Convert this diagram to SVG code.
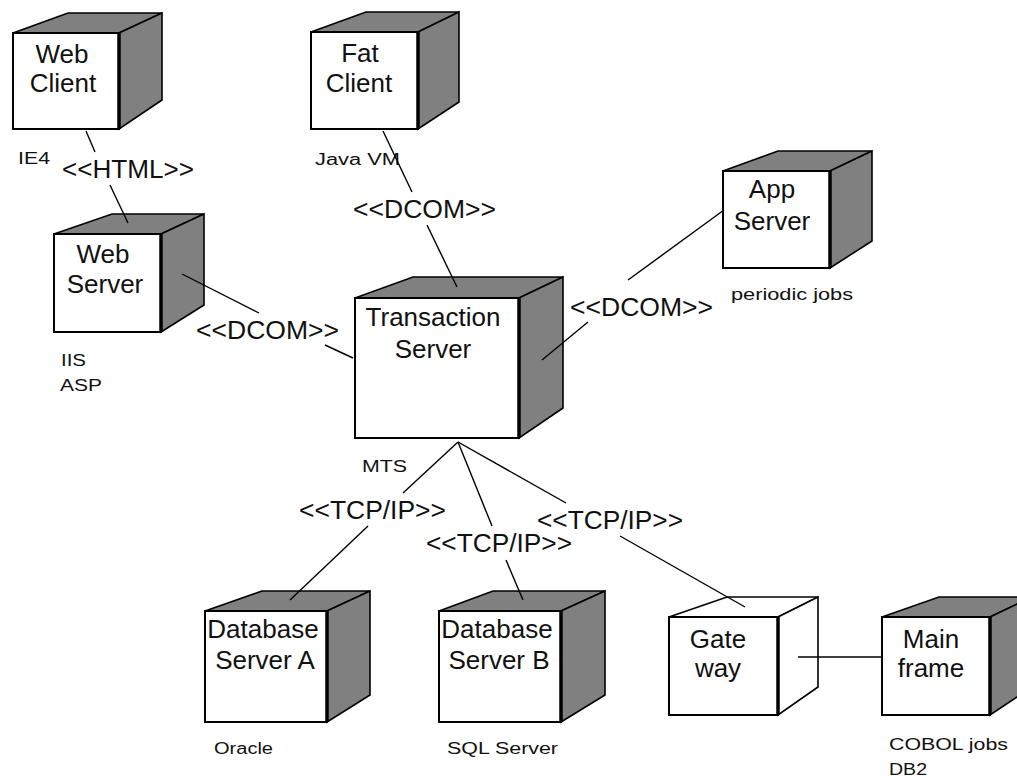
<svg xmlns="http://www.w3.org/2000/svg" width="1017" height="776" viewBox="0 0 1017 776">
  <style>
    .shade { fill: #808080; stroke: #000; stroke-width: 1.6; stroke-linejoin: miter; }
    .blank { fill: #fff; stroke: #000; stroke-width: 1.6; }
    .front { fill: #fff; stroke: #000; stroke-width: 2; }
    .edge { stroke: #000; stroke-width: 3.5; }
    .name { font-family: "Liberation Sans", Arial, sans-serif; font-size: 26px; fill: #111; text-anchor: middle; }
    .note { font-family: "Liberation Sans", Arial, sans-serif; font-size: 16px; fill: #111; }
    .stereo { font-family: "Liberation Sans", Arial, sans-serif; font-size: 25px; fill: #111; }
    .link { stroke: #000; stroke-width: 1.4; fill: none; }
  </style>
  <rect width="1017" height="776" fill="#fff"/>

  <g id="web-client">
    <polygon class="shade" points="13,33 68,13 162,13 119,33"/>
    <polygon class="shade" points="119,33 162,13 162,100 119,129"/>
    <rect class="front" x="13" y="33" width="106" height="96"/>
    <line class="edge" x1="119" y1="33" x2="119" y2="129"/>
    <text class="name" x="62" y="63">Web</text>
    <text class="name" x="63" y="92">Client</text>
    <text class="note" x="18" y="164" textLength="32" lengthAdjust="spacingAndGlyphs">IE4</text>
  </g>

  <g id="fat-client">
    <polygon class="shade" points="311,32 366,12 459,12 418,32"/>
    <polygon class="shade" points="418,32 459,12 459,102 418,129"/>
    <rect class="front" x="311" y="32" width="107" height="97"/>
    <line class="edge" x1="418" y1="32" x2="418" y2="129"/>
    <text class="name" x="360" y="62">Fat</text>
    <text class="name" x="359" y="92">Client</text>
    <text class="note" x="315" y="165" textLength="85" lengthAdjust="spacingAndGlyphs">Java VM</text>
  </g>

  <g id="web-server">
    <polygon class="shade" points="54,234 112,214 204,214 161,234"/>
    <polygon class="shade" points="161,234 204,214 204,305 161,332"/>
    <rect class="front" x="54" y="234" width="107" height="98"/>
    <line class="edge" x1="161" y1="234" x2="161" y2="332"/>
    <text class="name" x="103" y="263">Web</text>
    <text class="name" x="105" y="293">Server</text>
    <text class="note" x="61" y="366" textLength="25" lengthAdjust="spacingAndGlyphs">IIS</text>
    <text class="note" x="60" y="391" textLength="42" lengthAdjust="spacingAndGlyphs">ASP</text>
  </g>

  <g id="app-server">
    <polygon class="shade" points="723,171 778,151 872,151 830,171"/>
    <polygon class="shade" points="830,171 872,151 872,241 830,268"/>
    <rect class="front" x="723" y="171" width="107" height="97"/>
    <line class="edge" x1="830" y1="171" x2="830" y2="268"/>
    <text class="name" x="772" y="198">App</text>
    <text class="name" x="772" y="230">Server</text>
    <text class="note" x="731" y="300" textLength="122" lengthAdjust="spacingAndGlyphs">periodic jobs</text>
  </g>

  <g id="transaction-server">
    <polygon class="shade" points="355,298 413,277 563,277 519,298"/>
    <polygon class="shade" points="519,298 563,277 563,408 519,438"/>
    <rect class="front" x="355" y="298" width="164" height="140"/>
    <line class="edge" x1="519" y1="298" x2="519" y2="438"/>
    <text class="name" x="433" y="326">Transaction</text>
    <text class="name" x="433" y="358">Server</text>
    <text class="note" x="362" y="472" textLength="45" lengthAdjust="spacingAndGlyphs">MTS</text>
  </g>

  <g id="database-server-a">
    <polygon class="shade" points="205,611 262,591 370,591 327,611"/>
    <polygon class="shade" points="327,611 370,591 370,695 327,722"/>
    <rect class="front" x="205" y="611" width="122" height="111"/>
    <line class="edge" x1="327" y1="611" x2="327" y2="722"/>
    <text class="name" x="263" y="638">Database</text>
    <text class="name" x="265" y="669">Server A</text>
    <text class="note" x="214" y="754" textLength="59" lengthAdjust="spacingAndGlyphs">Oracle</text>
  </g>

  <g id="database-server-b">
    <polygon class="shade" points="439,611 493,591 605,591 561,611"/>
    <polygon class="shade" points="561,611 605,591 605,695 561,722"/>
    <rect class="front" x="439" y="611" width="122" height="111"/>
    <line class="edge" x1="561" y1="611" x2="561" y2="722"/>
    <text class="name" x="497" y="638">Database</text>
    <text class="name" x="499" y="669">Server B</text>
    <text class="note" x="447" y="754" textLength="111" lengthAdjust="spacingAndGlyphs">SQL Server</text>
  </g>

  <g id="gateway">
    <polygon class="blank" points="669,617 727,597 818,597 778,617"/>
    <polygon class="blank" points="778,617 818,597 818,687 778,715"/>
    <rect class="front" x="669" y="617" width="109" height="98"/>
    <line class="edge" x1="778" y1="617" x2="778" y2="715"/>
    <text class="name" x="718" y="648">Gate</text>
    <text class="name" x="718" y="677">way</text>
  </g>

  <g id="mainframe">
    <polygon class="shade" points="882,617 939,597 1032,597 990,617"/>
    <polygon class="shade" points="990,617 1032,597 1032,687 990,715"/>
    <rect class="front" x="882" y="617" width="108" height="98"/>
    <line class="edge" x1="990" y1="617" x2="990" y2="715"/>
    <text class="name" x="931" y="648">Main</text>
    <text class="name" x="931" y="677">frame</text>
    <text class="note" x="889" y="750" textLength="119" lengthAdjust="spacingAndGlyphs">COBOL jobs</text>
    <text class="note" x="889" y="775" textLength="38" lengthAdjust="spacingAndGlyphs">DB2</text>
  </g>

  <!-- connectors drawn last so their ends show on the cube faces; each is broken where its stereotype label sits -->
  <g id="connectors">
    <line class="link" x1="86" y1="131" x2="95" y2="152"/>
    <line class="link" x1="110" y1="185" x2="128" y2="223"/>
    <text class="stereo" x="62" y="178" font-size="23" textLength="132" lengthAdjust="spacingAndGlyphs">&lt;&lt;HTML&gt;&gt;</text>

    <line class="link" x1="383" y1="131" x2="412" y2="192"/>
    <line class="link" x1="427" y1="225" x2="457" y2="287"/>
    <text class="stereo" x="353" y="218" textLength="143" lengthAdjust="spacingAndGlyphs">&lt;&lt;DCOM&gt;&gt;</text>

    <line class="link" x1="182" y1="274" x2="259" y2="313"/>
    <line class="link" x1="325" y1="345" x2="353" y2="358"/>
    <text class="stereo" x="196" y="339" textLength="143" lengthAdjust="spacingAndGlyphs">&lt;&lt;DCOM&gt;&gt;</text>

    <line class="link" x1="724" y1="210" x2="628" y2="280"/>
    <line class="link" x1="588" y1="322" x2="542" y2="360"/>
    <text class="stereo" x="570" y="316" textLength="143" lengthAdjust="spacingAndGlyphs">&lt;&lt;DCOM&gt;&gt;</text>

    <line class="link" x1="458" y1="442" x2="403" y2="493"/>
    <line class="link" x1="368" y1="526" x2="290" y2="600"/>
    <text class="stereo" x="299" y="519" textLength="147" lengthAdjust="spacingAndGlyphs">&lt;&lt;TCP/IP&gt;&gt;</text>

    <line class="link" x1="458" y1="442" x2="492" y2="526"/>
    <line class="link" x1="506" y1="560" x2="523" y2="600"/>
    <text class="stereo" x="426" y="552" textLength="146" lengthAdjust="spacingAndGlyphs">&lt;&lt;TCP/IP&gt;&gt;</text>

    <line class="link" x1="458" y1="442" x2="566" y2="503"/>
    <line class="link" x1="620" y1="536" x2="745" y2="607"/>
    <text class="stereo" x="537" y="529" textLength="146" lengthAdjust="spacingAndGlyphs">&lt;&lt;TCP/IP&gt;&gt;</text>

    <line class="link" x1="798" y1="657" x2="882" y2="657"/>
  </g>
</svg>
